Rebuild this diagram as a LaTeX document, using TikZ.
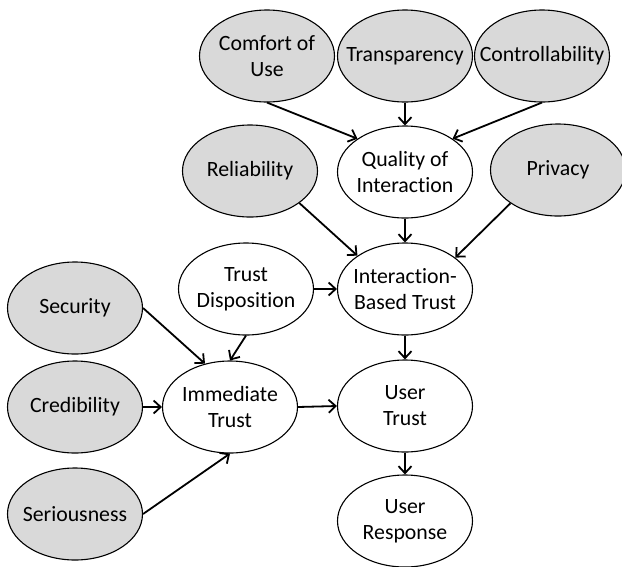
\documentclass[tikz,border=0pt]{standalone}
\usepackage{fontspec}
\setmainfont{Carlito}[Ligatures=NoCommon]
\usetikzlibrary{shapes,arrows}
\usetikzlibrary{arrows.meta, positioning}

\tikzset{
  factor/.style={ellipse, draw, line width=1.1pt, fill=gray!30,
    minimum width=135pt, minimum height=92pt,
    inner xsep=-40pt, inner ysep=-8pt, align=center,
    font=\fontsize{21.8}{26}\selectfont},
  construct/.style={factor, fill=white},
  link/.style={-{Straight Barb[length=7pt,width=13pt]}, line width=1.8pt},
}

\begin{document}
\begin{tikzpicture}[x=1pt, y=-1pt]
          \useasboundingbox (0,0) rectangle (622,566);

          \node[factor] (comfort) at (267,56) {Comfort of\\Use};
          \node[factor] (transp) at (405,56) {Transparency};
          \node[factor] (control) at (542,56) {Controllability};
          \node[factor] (reliab) at (250,171) {Reliability};
          \node[construct] (quality) at (405,172) {Quality of\\Interaction};
          \node[factor] (privacy) at (558,170) {Privacy};
          \node[construct] (disp) at (246,289) {Trust\\Disposition};
          \node[construct] (ibt) at (405,289) {Interaction-\\Based Trust};
          \node[factor] (security) at (75,308) {Security};
          \node[factor] (credib) at (75,407) {Credibility};
          \node[factor] (serious) at (75,514) {Seriousness};
          \node[construct] (immediate) at (230,407) {Immediate\\Trust};
          \node[construct] (usertrust) at (405,406) {User\\Trust};
          \node[construct] (response) at (405,521) {User\\Response};

          \draw[link] (comfort.south) -- (quality.145);
          \draw[link] (transp.south) -- (quality.north);
          \draw[link] (control.south) -- (quality.35);
          \draw[link] (reliab.-33) -- (ibt.145);
          \draw[link] (quality.south) -- (ibt.north);
          \draw[link] (privacy.-145) -- (ibt.32);
          \draw[link] (disp.east) -- (ibt.west);
          \draw[link] (disp.south) -- (immediate.north);
          \draw[link] (ibt.south) -- (usertrust.north);
          \draw[link] (security.east) -- (immediate.120);
          \draw[link] (credib.east) -- (immediate.west);
          \draw[link] (serious.east) -- (immediate.south);
          \draw[link] (immediate.east) -- (usertrust.west);
          \draw[link] (usertrust.south) -- (response.north);
    \end{tikzpicture}
\end{document}
